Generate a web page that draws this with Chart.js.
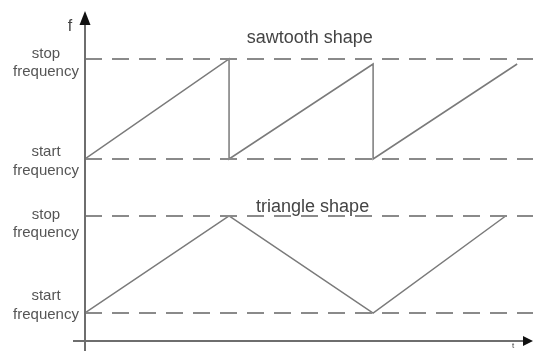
<!DOCTYPE html>
<html>
<head>
<meta charset="utf-8">
<script src="https://cdn.jsdelivr.net/npm/chart.js@4/dist/chart.umd.min.js"></script>
<style>
  html, body { margin: 0; padding: 0; background: #fff; }
  #wrap { width: 533px; height: 351px; }
</style>
</head>
<body>
<div id="wrap"><canvas id="chart-freq" width="533" height="351"></canvas></div>
<script>
// time points (units = one period) and frequency levels
const sawX = [0, 1, 1, 2, 2, 3];
const sawY = [182, 282, 182, 277, 182, 277];
const triX = [0, 1, 2, 2.92];
const triY = [28, 125, 28, 125];
const levels = [282, 182, 125, 28];         // stop / start for each shape
const levelLabels = ['stop', 'start', 'stop', 'start'];
const shapeTitles = ['sawtooth shape', 'triangle shape'];
const X_MAX = 3.11;
const Y_MAX = 330;

// where the two label lines sit relative to their dashed line (px)
const labelOffsets = [[-5, 13], [-7, 12], [-1, 17], [-17, 2]];

const pts = (xs, ys) => xs.map((x, i) => ({ x: x, y: ys[i] }));

const datasets = levels.map(v => ({
  data: [{ x: 0, y: v }, { x: X_MAX, y: v }],
  borderColor: '#8a8a8a',
  borderWidth: 2,
  borderDash: [17, 10]
}));
datasets.push({ data: pts(sawX, sawY), borderColor: '#7a7a7a', borderWidth: 1.5 });
datasets.push({ data: pts(triX, triY), borderColor: '#7a7a7a', borderWidth: 1.5 });

// ejes con flechas y textos
const decor = {
  id: 'decor',
  afterDatasetsDraw(chart) {
    const { ctx, scales: { x, y } } = chart;
    const x0 = x.getPixelForValue(0);
    const y0 = y.getPixelForValue(0);
    const yTop = y.getPixelForValue(Y_MAX);
    const xEnd = x.getPixelForValue(X_MAX);
    ctx.save();
    ctx.strokeStyle = '#6e6e6e';
    ctx.lineWidth = 2;
    ctx.beginPath();
    ctx.moveTo(x0, chart.height);
    ctx.lineTo(x0, yTop + 10);
    ctx.moveTo(x0 - 12, y0);
    ctx.lineTo(xEnd - 8, y0);
    ctx.stroke();
    ctx.fillStyle = '#111';
    ctx.beginPath();
    ctx.moveTo(x0, yTop);
    ctx.lineTo(x0 - 5.5, yTop + 14);
    ctx.lineTo(x0 + 5.5, yTop + 14);
    ctx.closePath();
    ctx.fill();
    ctx.beginPath();
    ctx.moveTo(xEnd, y0);
    ctx.lineTo(xEnd - 10, y0 - 5);
    ctx.lineTo(xEnd - 10, y0 + 5);
    ctx.closePath();
    ctx.fill();

    ctx.textAlign = 'center';
    ctx.textBaseline = 'middle';
    ctx.fillStyle = '#444';
    ctx.font = '16px "Liberation Sans", Arial, sans-serif';
    ctx.fillText('f', x0 - 15, yTop + 16);
    ctx.font = '8px "Liberation Sans", Arial, sans-serif';
    ctx.fillText('t', xEnd - 20, y0 + 5);

    ctx.fillStyle = '#555';
    ctx.font = '15px "Liberation Sans", Arial, sans-serif';
    levels.forEach((v, i) => {
      const py = y.getPixelForValue(v);
      ctx.fillText(levelLabels[i], 46, py + labelOffsets[i][0]);
      ctx.fillText('frequency', 46, py + labelOffsets[i][1]);
    });

    ctx.fillStyle = '#444';
    ctx.font = '18px "Liberation Sans", Arial, sans-serif';
    ctx.fillText(shapeTitles[0], x.getPixelForValue(1.56), y.getPixelForValue(303));
    ctx.fillText(shapeTitles[1], x.getPixelForValue(1.58), y.getPixelForValue(134));
    ctx.restore();
  }
};

new Chart(document.getElementById('chart-freq'), {
  type: 'scatter',
  data: { datasets: datasets },
  options: {
    responsive: false,
    animation: false,
    showLine: true,
    elements: { point: { radius: 0 }, line: { tension: 0, fill: false } },
    layout: { padding: { left: 85, top: 11, right: 0, bottom: 10 } },
    scales: {
      x: { type: 'linear', min: 0, max: X_MAX, display: false },
      y: { type: 'linear', min: 0, max: Y_MAX, display: false }
    },
    plugins: { legend: { display: false }, tooltip: { enabled: false } }
  },
  plugins: [decor]
});
</script>
</body>
</html>
